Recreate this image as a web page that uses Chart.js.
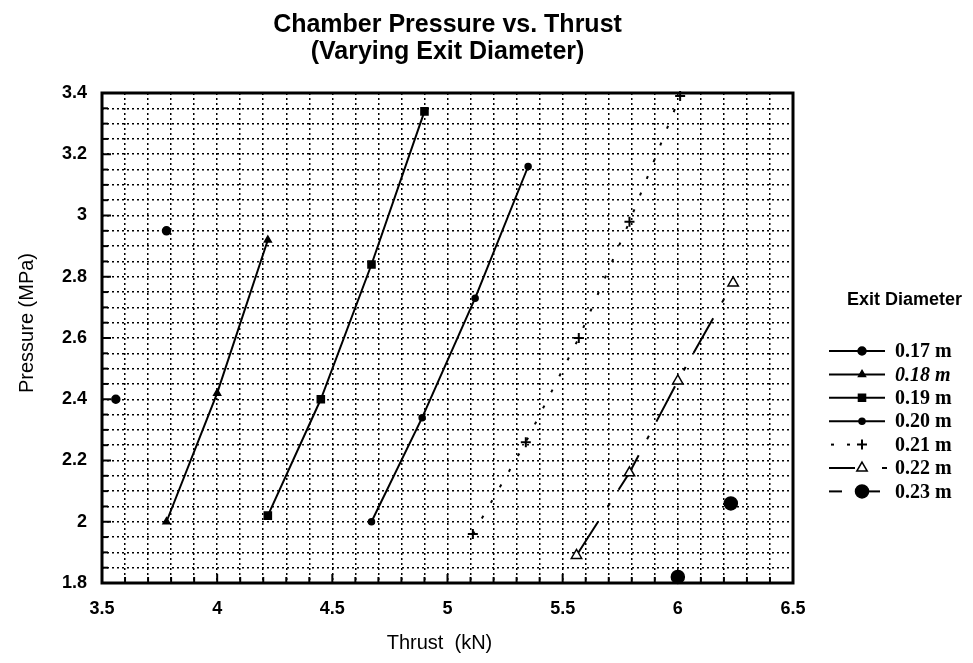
<!DOCTYPE html>
<html>
<head>
<meta charset="utf-8">
<script src="https://cdn.jsdelivr.net/npm/chart.js@4.4.1/dist/chart.umd.min.js"></script>
<style>
  html, body { margin: 0; padding: 0; background: #ffffff; }
  #c { display: block; }
</style>
</head>
<body>
<canvas id="c" width="973" height="663"></canvas>
<script>
// Exit diameters (legend entries)
const diameters = ['0.17 m', '0.18 m', '0.19 m', '0.20 m', '0.21 m', '0.22 m', '0.23 m'];

// Thrust (kN) and chamber pressure (MPa) for each exit diameter
const thrust017   = [3.56, 3.78];
const pressure017 = [2.40, 2.95];

const thrust018   = [3.78, 4.00, 4.22];
const pressure018 = [2.00, 2.42, 2.92];

const thrust019   = [4.22, 4.45, 4.67, 4.90];
const pressure019 = [2.02, 2.40, 2.84, 3.34];

const thrust020   = [4.67, 4.89, 5.12, 5.35];
const pressure020 = [2.00, 2.34, 2.73, 3.16];

const thrust021   = [5.11, 5.34, 5.57, 5.79, 6.01];
const pressure021 = [1.96, 2.26, 2.60, 2.98, 3.39];

const thrust022   = [5.56, 5.79, 6.00, 6.24];
const pressure022 = [1.89, 2.16, 2.46, 2.78];

const thrust023   = [6.00, 6.23];
const pressure023 = [1.82, 2.06];

// Axis tick labels
const xTickLabels = ['3.5', '4', '4.5', '5', '5.5', '6', '6.5'];
const yTickLabels = ['1.8', '2', '2.2', '2.4', '2.6', '2.8', '3', '3.2', '3.4'];

const thrustSeries   = [thrust017, thrust018, thrust019, thrust020, thrust021, thrust022, thrust023];
const pressureSeries = [pressure017, pressure018, pressure019, pressure020, pressure021, pressure022, pressure023];

// Marker / line style for each series
const seriesStyles = [
  { pointStyle: 'circle',   radius: 4,   fill: '#000', lineWidth: 2, showLine: false, dash: [],
    legendSegs: [[829, 885]] },
  { pointStyle: 'triangle', radius: 4,   fill: '#000', lineWidth: 2, showLine: true,  dash: [],
    legendSegs: [[829, 885]] },
  { pointStyle: 'rect',     radius: 5,   fill: '#000', lineWidth: 2, showLine: true,  dash: [],
    legendSegs: [[829, 885]] },
  { pointStyle: 'circle',   radius: 3,   fill: '#000', lineWidth: 2, showLine: true,  dash: [],
    legendSegs: [[829, 885]] },
  { pointStyle: 'cross',    radius: 5,   fill: '#000', lineWidth: 2, showLine: true,  dash: [3, 15],
    legendSegs: [[831, 834], [847, 850]] },
  { pointStyle: 'triangle', radius: 6,   fill: '#fff', lineWidth: 2, showLine: true,  dash: [40, 18, 4, 16],
    legendSegs: [[829, 855], [882, 887]] },
  { pointStyle: 'circle',   radius: 6.5, fill: '#000', lineWidth: 2, showLine: false, dash: [],
    legendSegs: [[829, 842], [862, 880]] }
];

const datasets = diameters.map((label, i) => {
  const st = seriesStyles[i];
  return {
    label: label,
    data: thrustSeries[i].map((t, k) => ({ x: t, y: pressureSeries[i][k] })),
    showLine: st.showLine,
    borderColor: '#000',
    borderWidth: st.lineWidth,
    borderDash: st.dash,
    backgroundColor: st.fill,
    pointStyle: st.pointStyle,
    pointRadius: st.radius,
    pointHoverRadius: st.radius,
    pointBackgroundColor: st.fill,
    pointBorderColor: '#000',
    pointBorderWidth: st.pointStyle === 'cross' ? 2 : 1.5,
    tension: 0,
    fill: false,
    clip: false
  };
});

function fmt(v) { return String(Math.round(v * 100) / 100); }

// Frame and inward tick marks drawn on top of the dotted grid
const framePlugin = {
  id: 'frame',
  beforeDatasetsDraw(chart) {
    const { ctx, chartArea: a, scales: { x, y } } = chart;
    ctx.save();
    ctx.strokeStyle = '#000';
    ctx.lineWidth = 2;
    x.ticks.forEach(t => {
      const px = x.getPixelForValue(t.value);
      const len = xTickLabels.includes(fmt(t.value)) ? 9 : 6;
      ctx.beginPath();
      ctx.moveTo(px, a.bottom);
      ctx.lineTo(px, a.bottom - len);
      ctx.stroke();
    });
    y.ticks.forEach(t => {
      const py = y.getPixelForValue(t.value);
      const len = yTickLabels.includes(fmt(t.value)) ? 9 : 6;
      ctx.beginPath();
      ctx.moveTo(a.left, py);
      ctx.lineTo(a.left + len, py);
      ctx.stroke();
    });
    ctx.lineWidth = 3;
    ctx.strokeRect(a.left, a.top, a.right - a.left, a.bottom - a.top);
    ctx.restore();
  }
};

// Titles and the "Exit Diameter" legend
const textPlugin = {
  id: 'texts',
  afterDraw(chart) {
    const { ctx, chartArea: a } = chart;
    const cx = (a.left + a.right) / 2;
    ctx.save();
    ctx.fillStyle = '#000';
    ctx.textBaseline = 'middle';
    ctx.textAlign = 'center';
    ctx.font = 'bold 25px "Liberation Sans"';
    ctx.fillText('Chamber Pressure vs. Thrust', cx, 25);
    ctx.fillText('(Varying Exit Diameter)', cx, 52);

    ctx.font = '20px "Liberation Sans"';
    ctx.fillText('Thrust  (kN)', cx - 8, 643);
    ctx.save();
    ctx.translate(27, 323);
    ctx.rotate(-Math.PI / 2);
    ctx.fillText('Pressure (MPa)', 0, 0);
    ctx.restore();

    // legend
    ctx.textAlign = 'left';
    ctx.font = 'bold 18px "Liberation Sans"';
    ctx.fillText('Exit Diameter', 847, 300);
    chart.data.datasets.forEach((ds, i) => {
      const st = seriesStyles[i];
      const ly = 351 + i * 23.4;
      ctx.strokeStyle = '#000';
      ctx.lineWidth = 2;
      ctx.setLineDash([]);
      st.legendSegs.forEach(s => {
        ctx.beginPath();
        ctx.moveTo(s[0], ly);
        ctx.lineTo(s[1], ly);
        ctx.stroke();
      });
      ctx.fillStyle = st.fill;
      ctx.lineWidth = ds.pointBorderWidth;
      Chart.helpers.drawPoint(ctx, {
        pointStyle: st.pointStyle, radius: st.radius,
        borderWidth: ds.pointBorderWidth, rotation: 0
      }, 862, ly);
      ctx.fillStyle = '#000';
      ctx.font = (i === 1 ? 'italic ' : '') + 'bold 20px "Liberation Serif"';
      ctx.fillText(ds.label, 895, ly + 1);
    });
    ctx.restore();
  }
};

const tickFont = { family: 'Liberation Sans', size: 18, weight: 'bold' };

new Chart(document.getElementById('c'), {
  type: 'line',
  data: { datasets: datasets },
  options: {
    responsive: false,
    devicePixelRatio: 1,
    animation: false,
    events: [],
    layout: { padding: { left: 0, top: 93, right: 180, bottom: 0 } },
    plugins: { legend: { display: false }, title: { display: false }, tooltip: { enabled: false } },
    scales: {
      x: {
        type: 'linear',
        min: 3.5, max: 6.5,
        afterFit(scale) { scale.height = 80; },
        grid: { color: '#000', lineWidth: 1.5, drawTicks: false },
        border: { display: false, dash: [2, 3] },
        ticks: {
          stepSize: 0.1, maxTicksLimit: 100, autoSkip: false, maxRotation: 0,
          padding: 15, color: '#000', font: tickFont,
          callback: v => (xTickLabels.includes(fmt(v)) ? fmt(v) : '')
        }
      },
      y: {
        type: 'linear',
        min: 1.8, max: 3.4,
        afterFit(scale) { scale.width = 102; },
        grid: { color: '#000', lineWidth: 1.5, drawTicks: false },
        border: { display: false, dash: [2, 3] },
        ticks: {
          stepSize: 0.05, maxTicksLimit: 100, autoSkip: false,
          padding: 15, color: '#000', font: tickFont,
          callback: v => (yTickLabels.includes(fmt(v)) ? fmt(v) : '')
        }
      }
    }
  },
  plugins: [framePlugin, textPlugin]
});
</script>
</body>
</html>
